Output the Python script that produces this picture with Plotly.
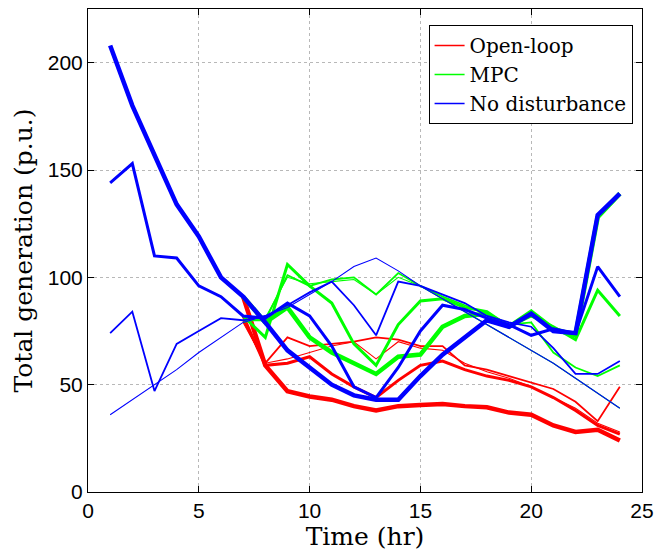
import plotly.graph_objects as go

hours_full = list(range(1, 25))
hours_dist = list(range(7, 25))

# No disturbance (t = 1..24), four scenarios (thick -> thinnest)
nodist_1 = [208, 180, 157, 134, 119, 100, 91, 79, 66, 58, 50, 45, 43, 43, 54, 64, 72, 80, 77, 83, 75, 74, 129, 139]
nodist_2 = [144, 153, 110, 109, 96, 91, 82, 81, 88, 82, 68, 49, 44, 58, 75, 87, 85, 81, 78, 73, 76, 74, 105, 91]
nodist_3 = [74, 84, 47, 69, 75, 81, 80, 82, 87, 93, 98, 87, 73, 98, 96, 92, 88, 82, 79, 77, 67, 55, 55, 61]
nodist_4 = [36, 43, 50, 57, 65, 72, 79, 82, 86, 92, 98, 105, 109, 103, 96, 90, 84, 78, 72, 66, 60, 53, 46, 39]

# Open-loop (t = 7..24)
open_1 = [91, 59, 47, 44.5, 43, 40, 38, 40, 40.5, 41, 40, 39.5, 37, 36, 31, 28, 29, 24]
open_2 = [82, 59, 60, 63, 55, 49, 44, 52, 59, 61, 57, 54, 52, 49, 44, 38, 31, 27]
open_3 = [80, 60, 72, 68, 69, 70, 72, 71, 68, 68, 59, 57, 54, 51, 48, 42, 33, 49]
open_4 = [79, 60, 62, 65, 68, 70, 62, 70, 67, 66, 60, 56, 53, 49, 44, 39, 32, 28]

# MPC (t = 7..24)
mpc_1 = [91, 79, 86, 72, 65, 60, 55, 63, 64, 77, 82, 83, 77, 84, 76, 73, 128, 139]
mpc_2 = [82, 72, 106, 96, 88, 69, 59, 78, 89, 90, 86, 84, 77, 82, 77, 71, 94, 82]
mpc_3 = [80, 80, 101, 96, 99, 100, 92, 102, 96, 91, 87, 83, 78, 79, 65, 58, 54, 59]
mpc_4 = [79, 81, 100, 97, 98, 99, 92, 100, 96, 90, 84, 78, 72, 66, 60, 53, 46, 39]

widths = [4.5, 3, 1.8, 1.1]
RED, GREEN, BLUE = "#ff0000", "#00ff00", "#0000ff"
SERIF = "DejaVu Serif, serif"

fig = go.Figure()

groups = [
    ("Open-loop", RED, hours_dist, [open_1, open_2, open_3, open_4]),
    ("MPC", GREEN, hours_dist, [mpc_1, mpc_2, mpc_3, mpc_4]),
    ("No disturbance", BLUE, hours_full, [nodist_1, nodist_2, nodist_3, nodist_4]),
]

for name, color, x, series in groups:
    for i, ys in enumerate(series):
        fig.add_trace(go.Scatter(
            x=x, y=ys, mode="lines",
            line=dict(color=color, width=widths[i]),
            name=name, showlegend=False, hoverinfo="skip"))

# legend-only entries
for name, color, _, _ in groups:
    fig.add_trace(go.Scatter(x=[None], y=[None], mode="lines",
                             line=dict(color=color, width=1.5), name=name))

axis_common = dict(
    showline=True, linecolor="black", linewidth=1, mirror="ticks",
    ticks="inside", ticklen=6, tickcolor="black",
    showgrid=True, gridcolor="#b8b8b8", griddash="dot", gridwidth=1,
    zeroline=False,
    tickfont=dict(family="Liberation Sans, Arial, sans-serif", size=21, color="black"),
)

fig.update_xaxes(range=[0, 25], tick0=0, dtick=5,
                 title=dict(text="Time (hr)", standoff=2,
                            font=dict(family=SERIF, size=25, color="black")),
                 **axis_common)
fig.update_yaxes(range=[0, 225], tick0=0, dtick=50,
                 title=dict(text="Total generation (p.u.)", standoff=8,
                            font=dict(family=SERIF, size=25, color="black")),
                 **axis_common)

fig.update_layout(
    width=662, height=552,
    margin=dict(l=88, r=13, t=8, b=60),
    paper_bgcolor="white", plot_bgcolor="white",
    legend=dict(x=0.983, y=0.967, xanchor="right", yanchor="top",
                bgcolor="white", bordercolor="black", borderwidth=1,
                font=dict(family=SERIF, size=20, color="black"),
                itemwidth=30, tracegroupgap=0),
)

fig.write_html("out.html")
